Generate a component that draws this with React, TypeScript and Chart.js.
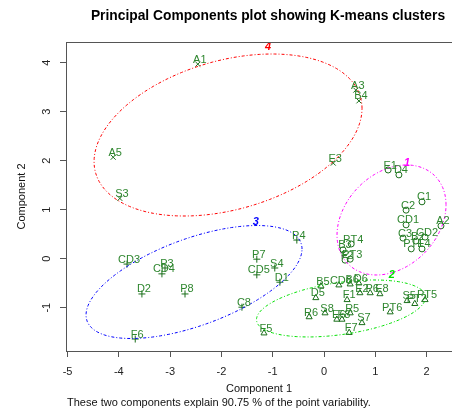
import React, { useEffect, useRef } from "react";
import { Chart, registerables } from "chart.js";
Chart.register(...registerables);

// ---- data (Component 1, Component 2) per K-means cluster ----
const c1Names = ["E1", "D4", "C1", "C2", "CD1", "A2", "C3", "CD2", "B2", "PT1", "E4", "PT4", "B3", "F2", "PT3"];
const c1X = [1.25, 1.46, 1.91, 1.60, 1.60, 2.28, 1.54, 1.97, 1.79, 1.70, 1.91, 0.53, 0.37, 0.41, 0.51];
const c1Y = [1.81, 1.71, 1.16, 0.99, 0.69, 0.67, 0.42, 0.44, 0.36, 0.20, 0.20, 0.30, 0.18, -0.03, -0.01];

const c2Names = ["CD6", "B6", "D6", "B5", "D5", "E2", "P6", "E8", "F1", "S8", "R5", "E6", "F8", "S7", "F7", "R6", "F5", "PT6", "S5", "PT5", "PT2"];
const c2X = [0.29, 0.51, 0.68, -0.06, -0.16, 0.70, 0.90, 1.09, 0.45, 0.02, 0.51, 0.25, 0.35, 0.74, 0.49, -0.29, -1.17, 1.29, 1.62, 1.97, 1.77];
const c2Y = [-0.54, -0.52, -0.50, -0.56, -0.80, -0.70, -0.70, -0.72, -0.84, -1.11, -1.11, -1.24, -1.24, -1.31, -1.51, -1.19, -1.52, -1.09, -0.86, -0.84, -0.92];

const c3Names = ["CD3", "P3", "CD4", "D2", "P8", "F6", "C8", "P7", "CD5", "S4", "D1", "P4"];
const c3X = [-3.84, -3.10, -3.16, -3.55, -2.71, -3.68, -1.60, -1.31, -1.31, -0.96, -0.86, -0.53];
const c3Y = [-0.11, -0.19, -0.31, -0.72, -0.72, -1.64, -0.99, -0.01, -0.33, -0.19, -0.48, 0.38];

const c4Names = ["A1", "A3", "B4", "A5", "S3", "E3"];
const c4X = [-2.46, 0.62, 0.68, -4.11, -3.98, 0.18];
const c4Y = [3.97, 3.44, 3.22, 2.07, 1.23, 1.95];

// ---- cluster ellipses: centre and spread (covariance-like) ----
const ellNames = ["1", "2", "3", "4"];
const ellCx = [1.316, 0.331, -2.534, -1.871];
const ellCy = [0.79, -1.016, -0.476, 2.524];
const ellSxx = [1.129, 2.713, 4.432, 6.823];
const ellSyy = [1.26, 0.338, 1.329, 2.733];
const ellSxy = [0.328, 0.374, 1.416, 1.418];
const ellLabelX = [1.62, 1.32, -1.33, -1.09];
const ellLabelY = [1.95, -0.33, 0.75, 4.32];
const ellColors = ["#ff00ff", "#00e000", "#0000ff", "#ff0000"];

const xMin = -5.03, xMax = 2.495;
const yMin = -1.884, yMax = 4.422;

const TITLE = "Principal Components plot showing K-means clusters";
const SUBTITLE = "These two components explain 90.75 % of the point variability.";
const X_TITLE = "Component 1";
const Y_TITLE = "Component 2";

const FONT = "'Liberation Sans', Arial, sans-serif";
const PT_COLOR = "#1a6e1a";
const TXT_COLOR = "#2e862e";

function ellipse(i: number) {
  const l11 = Math.sqrt(ellSxx[i]);
  const l21 = ellSxy[i] / l11;
  const l22 = Math.sqrt(ellSyy[i] - l21 * l21);
  const pts: { x: number; y: number }[] = [];
  const n = 160;
  for (let k = 0; k <= n; k++) {
    const t = (2 * Math.PI * k) / n;
    pts.push({ x: ellCx[i] + l11 * Math.cos(t), y: ellCy[i] + l21 * Math.cos(t) + l22 * Math.sin(t) });
  }
  return pts;
}

const clusters = [
  { names: c1Names, xs: c1X, ys: c1Y, style: "circle", r: 3 },
  { names: c2Names, xs: c2X, ys: c2Y, style: "triangle", r: 3.5 },
  { names: c3Names, xs: c3X, ys: c3Y, style: "cross", r: 3.5 },
  { names: c4Names, xs: c4X, ys: c4Y, style: "crossRot", r: 3.5 },
];

export default function App() {
  const ref = useRef<HTMLCanvasElement>(null);
  useEffect(() => {
    if (!ref.current) return;
    const ellipseSets = ellNames.map((n, i) => ({
      type: "line" as const,
      label: "ellipse " + n,
      data: ellipse(i),
      showLine: true,
      borderColor: ellColors[i],
      borderWidth: 1,
      borderDash: [3, 2, 1, 2],
      pointRadius: 0,
      fill: false,
      tension: 0,
    }));
    const pointSets = clusters.map((c, i) => ({
      type: "scatter" as const,
      label: "cluster " + (i + 1),
      data: c.xs.map((x, k) => ({ x, y: c.ys[k] })),
      pointStyle: c.style,
      pointRadius: c.r,
      pointBorderWidth: 1,
      borderColor: PT_COLOR,
      backgroundColor: "rgba(0,0,0,0)",
      showLine: false,
    }));

    const textPlugin = {
      id: "rtext",
      afterDatasetsDraw(chart: any) {
        const { ctx, scales } = chart;
        const xs = scales.x, ys = scales.y;
        ctx.save();
        ctx.font = "11px " + FONT;
        ctx.fillStyle = TXT_COLOR;
        ctx.textAlign = "center";
        ctx.textBaseline = "middle";
        clusters.forEach((c) => {
          c.names.forEach((nm, k) => {
            const px = xs.getPixelForValue(c.xs[k]);
            const py = ys.getPixelForValue(c.ys[k]);
            ctx.fillText(nm, px + 2, py - 4.5);
          });
        });
        ctx.font = "italic bold 11px " + FONT;
        ellNames.forEach((n, i) => {
          ctx.fillStyle = ellColors[i];
          ctx.fillText(n, xs.getPixelForValue(ellLabelX[i]), ys.getPixelForValue(ellLabelY[i]));
        });
        ctx.restore();
      },
      afterDraw(chart: any) {
        const { ctx, chartArea, scales } = chart;
        ctx.save();
        // top border of the box
        ctx.strokeStyle = "#555";
        ctx.lineWidth = 1;
        ctx.beginPath();
        ctx.moveTo(chartArea.left, chartArea.top + 0.5);
        ctx.lineTo(chartArea.right, chartArea.top + 0.5);
        ctx.stroke();
        // title
        ctx.fillStyle = "#000";
        ctx.font = "bold 13.8px " + FONT;
        ctx.textAlign = "center";
        ctx.textBaseline = "middle";
        ctx.fillText(TITLE, 268, 16);
        // subtitle
        ctx.font = "11px " + FONT;
        ctx.fillStyle = "#111";
        ctx.textAlign = "left";
        ctx.fillText(SUBTITLE, 67, 403);
        // y tick labels, rotated like R
        const ys = scales.y;
        ctx.fillStyle = "#222";
        ctx.textAlign = "center";
        ys.ticks.forEach((t: any) => {
          const py = ys.getPixelForValue(t.value);
          ctx.save();
          ctx.translate(47, py);
          ctx.rotate(-Math.PI / 2);
          ctx.fillText(String(t.value), 0, 0);
          ctx.restore();
        });
        ctx.restore();
      },
    };

    const chart = new Chart(ref.current, {
      type: "scatter",
      data: { datasets: [...ellipseSets, ...pointSets] as any },
      options: {
        animation: false,
        responsive: false,
        maintainAspectRatio: false,
        layout: { padding: { top: 42, left: 0, right: 0, bottom: 0 }, autoPadding: false } as any,
        plugins: { legend: { display: false }, tooltip: { enabled: false }, title: { display: false } },
        scales: {
          x: {
            type: "linear",
            min: xMin,
            max: xMax,
            afterFit(s: any) { s.height = 63; },
            ticks: { stepSize: 1, includeBounds: false, font: { size: 11, family: FONT }, color: "#222", padding: 8, maxRotation: 0 },
            grid: { drawOnChartArea: false, drawTicks: true, tickLength: 6, color: "#555" },
            border: { display: true, color: "#555", width: 1 },
            title: { display: true, text: X_TITLE, font: { size: 11, family: FONT }, color: "#111", padding: { top: 0, bottom: 18.4 } },
          },
          y: {
            type: "linear",
            min: yMin,
            max: yMax,
            afterFit(s: any) { s.width = 66; },
            ticks: { stepSize: 1, includeBounds: false, display: false },
            grid: { drawOnChartArea: false, drawTicks: true, tickLength: 6, color: "#555" },
            border: { display: true, color: "#555", width: 1 },
            title: { display: true, text: Y_TITLE, font: { size: 11, family: FONT }, color: "#111", padding: { top: 15.4, bottom: 0 } },
          },
        },
      } as any,
      plugins: [textPlugin],
    });
    return () => chart.destroy();
  }, []);
  return (
    <div style={{ position: "absolute", left: 0, top: 0, width: 452, height: 414, overflow: "hidden", background: "#fff" }}>
      <canvas ref={ref} width={452} height={414} style={{ display: "block" }} />
    </div>
  );
}
